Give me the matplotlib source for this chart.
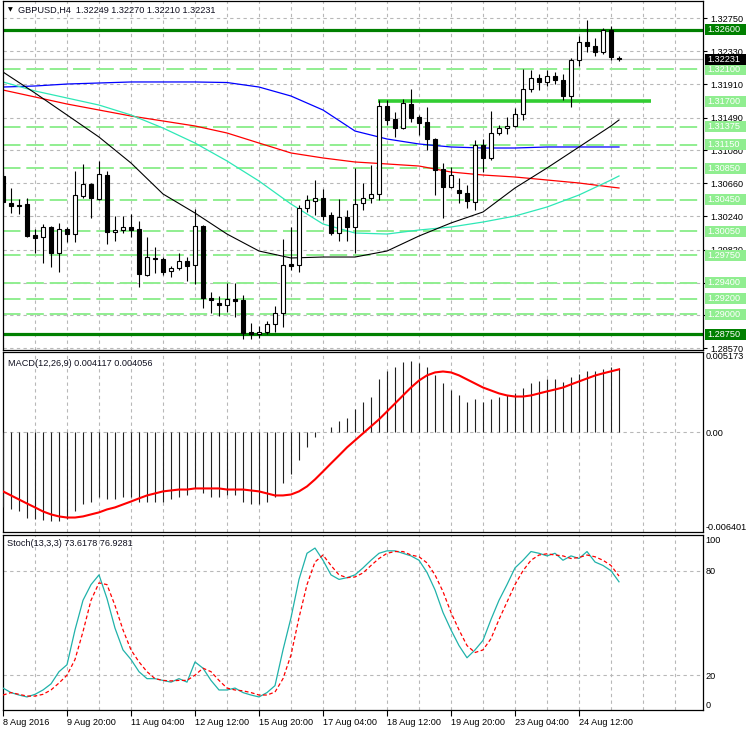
import matplotlib
matplotlib.use('Agg')
import matplotlib.pyplot as plt
from matplotlib.patches import Rectangle
from matplotlib.transforms import blended_transform_factory
import numpy as np

plt.rcParams['font.family'] = ['Liberation Sans', 'DejaVu Sans']

# ---------------- data ----------------
opens = [1.30752,1.30410,1.30384,1.30397,1.30005,1.29979,1.30106,1.29777,1.30081,1.30017,
         1.30498,1.30650,1.30460,1.30764,1.30043,1.30068,1.30106,1.30081,1.29498,1.29714,
         1.29701,1.29549,1.29587,1.29676,1.29625,1.30119,1.29207,1.29144,1.29118,1.29194,
         1.29182,1.28777,1.28751,1.28777,1.28878,1.29017,1.29638,1.29625,1.30347,1.30435,
         1.30473,1.30258,1.30030,1.30233,1.30106,1.30410,1.30473,1.30524,1.31638,1.31473,
         1.31359,1.31663,1.31499,1.31435,1.31220,1.30840,1.30612,1.30574,1.30536,1.30422,
         1.31144,1.30980,1.31296,1.31359,1.31385,1.31537,1.31853,1.31992,1.31942,1.32018,
         1.31967,1.31764,1.32220,1.32448,1.32397,1.32321,1.32600,1.32249]
highs = [1.30802,1.30600,1.30460,1.30473,1.30081,1.30144,1.30119,1.30157,1.30106,1.30815,
         1.30904,1.30663,1.30942,1.30815,1.30245,1.30245,1.30271,1.30182,1.29979,1.29853,
         1.29726,1.29612,1.29777,1.29726,1.30334,1.30131,1.29283,1.29232,1.29397,1.29397,
         1.29245,1.28891,1.28853,1.28916,1.29106,1.29954,1.30106,1.30384,1.30511,1.30701,
         1.30587,1.30296,1.30460,1.30321,1.30853,1.30663,1.30891,1.31714,1.31714,1.31562,
         1.31726,1.31853,1.31524,1.31625,1.31233,1.30916,1.30866,1.30726,1.30638,1.31207,
         1.31220,1.31575,1.31397,1.31499,1.31613,1.32106,1.32094,1.32043,1.32094,1.32068,
         1.32043,1.32246,1.32524,1.32727,1.32499,1.32625,1.32651,1.32270]
lows = [1.30334,1.30283,1.30271,1.29979,1.29777,1.29650,1.29600,1.29536,1.29916,1.29916,
        1.30473,1.30220,1.30448,1.29891,1.29929,1.30030,1.29979,1.29346,1.29486,1.29524,
        1.29498,1.29473,1.29562,1.29422,1.29384,1.29081,1.29017,1.28979,1.29030,1.28967,
        1.28688,1.28688,1.28701,1.28751,1.28777,1.28840,1.29562,1.29536,1.30296,1.30258,
        1.30195,1.30005,1.29929,1.29929,1.29777,1.30321,1.30410,1.30448,1.31397,1.31245,
        1.31347,1.31435,1.31271,1.31081,1.30511,1.30220,1.30600,1.30410,1.30347,1.30321,
        1.30802,1.30954,1.31271,1.31283,1.31372,1.31461,1.31815,1.31840,1.31891,1.31916,
        1.31714,1.31625,1.32144,1.32321,1.32271,1.32296,1.32220,1.32210]
closes = [1.30422,1.30378,1.30372,1.29992,1.29973,1.30106,1.29777,1.30081,1.30017,1.30511,
          1.30650,1.30473,1.30777,1.30043,1.30068,1.30106,1.30068,1.29511,1.29726,1.29695,
          1.29536,1.29587,1.29676,1.29612,1.30119,1.29207,1.29182,1.29118,1.29194,1.29169,
          1.28764,1.28751,1.28777,1.28878,1.29017,1.29625,1.29612,1.30347,1.30448,1.30473,
          1.30245,1.30030,1.30233,1.30106,1.30397,1.30473,1.30524,1.31638,1.31461,1.31359,
          1.31676,1.31486,1.31423,1.31220,1.30828,1.30612,1.30764,1.30536,1.30435,1.31144,
          1.30980,1.31296,1.31359,1.31385,1.31537,1.31853,1.31992,1.31942,1.32018,1.31967,
          1.31764,1.32220,1.32448,1.32397,1.32321,1.32600,1.32258,1.32231]

ma_idx = [0,4,8,12,16,20,24,28,32,36,40,44,48,52,56,60,64,68,72,76,77]
ma_black = [1.32068,1.31802,1.31524,1.31245,1.30916,1.30524,1.30283,1.30017,1.29802,1.29714,1.29726,
            1.29726,1.29802,1.29992,1.30157,1.30296,1.30600,1.30853,1.31119,1.31385,1.31461]
ma_cyan = [1.31942,1.31828,1.31739,1.31650,1.31524,1.31359,1.31169,1.30942,1.30688,1.30397,1.30144,
           1.30030,1.30017,1.30068,1.30106,1.30169,1.30245,1.30359,1.30511,1.30701,1.30752]
ma_blue = [1.31878,1.31891,1.31916,1.31929,1.31942,1.31942,1.31942,1.31935,1.31878,1.31764,1.31587,
           1.31321,1.31220,1.31157,1.31119,1.31106,1.31106,1.31119,1.31119,1.31119,1.31119]
ma_red = [1.31840,1.31752,1.31663,1.31587,1.31511,1.31448,1.31385,1.31296,1.31169,1.31043,1.30980,
          1.30929,1.30904,1.30878,1.30802,1.30764,1.30739,1.30701,1.30663,1.30612,1.30600]

macd_hist = [-0.00482,-0.00495,-0.00508,-0.00547,-0.00559,-0.00566,-0.00572,-0.00572,-0.00559,-0.00508,
             -0.00463,-0.00450,-0.00412,-0.00431,-0.00431,-0.00418,-0.00412,-0.00450,-0.00450,-0.00444,
             -0.00444,-0.00431,-0.00412,-0.00399,-0.00354,-0.00392,-0.00412,-0.00412,-0.00405,-0.00405,
             -0.00450,-0.00463,-0.00463,-0.00450,-0.00418,-0.00328,-0.00264,-0.00174,-0.00096,-0.00032,
             0.00006,0.00032,0.00071,0.00096,0.00148,0.00193,0.00231,0.00341,0.00392,0.00418,
             0.00450,0.00457,0.00444,0.00418,0.00367,0.00315,0.00276,0.00238,0.00199,0.00212,
             0.00199,0.00212,0.00225,0.00238,0.00251,0.00289,0.00315,0.00328,0.00341,0.00341,
             0.00322,0.00354,0.00379,0.00392,0.00392,0.00405,0.00418,0.004117]
macd_signal = [-0.00379,-0.00405,-0.00431,-0.00457,-0.00482,-0.00508,-0.00527,-0.00540,-0.00547,-0.00547,
               -0.00540,-0.00527,-0.00514,-0.00495,-0.00482,-0.00463,-0.00444,-0.00424,-0.00405,-0.00392,
               -0.00379,-0.00373,-0.00367,-0.00367,-0.00360,-0.00360,-0.00360,-0.00360,-0.00367,-0.00367,
               -0.00367,-0.00373,-0.00379,-0.00392,-0.00405,-0.00405,-0.00399,-0.00379,-0.00347,-0.00302,
               -0.00251,-0.00199,-0.00148,-0.00096,-0.00051,-0.00006,0.00039,0.00084,0.00135,0.00186,
               0.00238,0.00289,0.00334,0.00367,0.00386,0.00392,0.00386,0.00367,0.00341,0.00315,
               0.00289,0.00270,0.00251,0.00238,0.00231,0.00231,0.00238,0.00251,0.00264,0.00276,
               0.00289,0.00309,0.00328,0.00347,0.00366,0.00380,0.00393,0.004056]

stoch_k = [12.6,10,8.6,7.5,9,11.5,15,22,26,46,
           63,72,77.6,64,47,34.5,29,22,18,18,
           17,16,18,16,27.6,24,17,11.5,11.5,12.6,
           10,8.6,7.5,10,14,34.5,53,75,90,93,
           86,77.6,75,76,77.6,81.6,86,90,91.4,91.4,
           90,88.5,86,79,69,56,46,37,30,34.5,
           40,52,63,72,81.6,86,91,90,88.5,90,
           86,88.5,87,91,85,83,80,73.6178]
stoch_d = [8.6,10,9,8,8,9,11.5,15.5,20,29,
           45,63,73,72,60,46,34.5,27.6,22,18,
           17,16.7,17,17,20,24,22,17,12.6,11.5,
           11,10,8.6,8.6,10.3,18,31.6,53,72,85,
           89,83,77.6,76,76.4,78.7,83,87,90,91,
           91,89,88,84.5,77.6,68,56,46,37,33,
           34.5,41,52,62,72,80,86,89,89.7,89,
           88.5,87,87.6,89,88,86,83,76.9281]

price_ticks = [1.32750,1.32330,1.31910,1.31490,1.31080,1.30660,1.30240,1.29820,1.29400,1.28990,1.28570]
levels_light = [1.32100,1.31375,1.31150,1.30850,1.30450,1.30050,1.29750,1.29400,1.29200,1.29000]
levels_dark = [1.32600,1.28750]
level_bright = 1.31700
date_ticks = [0,8,16,24,32,40,48,56,64,72]
date_labels = ['8 Aug 2016','9 Aug 20:00','11 Aug 04:00','12 Aug 12:00','15 Aug 20:00',
               '17 Aug 04:00','18 Aug 12:00','19 Aug 20:00','23 Aug 04:00','24 Aug 12:00']
title = 'GBPUSD,H4  1.32249 1.32270 1.32210 1.32231'
macd_title = 'MACD(12,26,9) 0.004117 0.004056'
stoch_title = 'Stoch(13,3,3) 73.6178 76.9281'

# ---------------- layout ----------------
W, H = 746, 731
fig = plt.figure(figsize=(W/100, H/100), dpi=100)
fig.patch.set_facecolor('white')

def ax_px(l, t, r, b):
    return fig.add_axes([l/W, 1-b/H, (r-l)/W, (b-t)/H])

ax = ax_px(3, 1, 703, 350)
axm = ax_px(3, 352, 703, 532)
axs = ax_px(3, 535, 703, 710)

XMAX = 87.5
FS = 6.6
GRID = '#b8b8b8'
for a in (ax, axm, axs):
    a.set_xlim(0, XMAX)
    a.set_facecolor('white')
    for s in a.spines.values():
        s.set_color('black'); s.set_linewidth(0.9)
    a.yaxis.tick_right()
    a.tick_params(axis='y', direction='out', length=3, width=0.8, pad=2, labelsize=FS, colors='black')
    for gx in range(4, 88, 4):
        a.axvline(gx, color=GRID, lw=0.8, dashes=(3, 3), zorder=0.5)
ax.set_xticks([]); axm.set_xticks([])

# ---------------- main chart ----------------
n = len(opens)
x = np.arange(n)
o = np.array(opens); h = np.array(highs); l = np.array(lows); c = np.array(closes)
ax.set_ylim(1.28549, 1.32967)
ax.set_yticks(price_ticks)
ax.set_yticklabels([f'{t:.5f}' for t in price_ticks])
for t in price_ticks:
    ax.axhline(t, color=GRID, lw=0.8, dashes=(3, 3), zorder=0.5)

for lv in levels_light:
    ax.axhline(lv, color='#90EE90', lw=1.4, dashes=(9, 3), zorder=1)
for lv in levels_dark:
    ax.axhline(lv, color='#008000', lw=2.3, zorder=1.2)
ax.hlines(level_bright, 46.9, 81, color='#32CD32', lw=2.6, zorder=1.2)
ax.axhline(closes[-1], color='#c0c0c0', lw=0.9, zorder=1.1)

ax.plot(ma_idx, ma_red, color='#ff0000', lw=0.9, zorder=2)
ax.plot(ma_idx, ma_blue, color='#0000ff', lw=0.9, zorder=2)
ax.plot(ma_idx, ma_cyan, color='#2ee8b6', lw=0.9, zorder=2)
ax.plot(ma_idx, ma_black, color='black', lw=0.8, zorder=2)

ax.vlines(x, l, h, color='black', lw=0.8, zorder=3)
up = c >= o
body = np.where(np.abs(c - o) < 0.00002, 0.00002, c - o)
ax.bar(x[up], body[up], bottom=o[up], width=0.62, facecolor='white', edgecolor='black', lw=0.8, zorder=4)
ax.bar(x[~up], body[~up], bottom=o[~up], width=0.62, facecolor='black', edgecolor='black', lw=0.8, zorder=4)

# right side price boxes
dpp = (1.32967 - 1.28549) / 349.0
tr = blended_transform_factory(fig.transFigure, ax.transData)
def price_box(p, bg, fg='white'):
    hh = 11 * dpp
    fig.add_artist(Rectangle((705/W, p - hh/2), 42/W, hh, transform=tr, facecolor=bg,
                             edgecolor='none', clip_on=False, zorder=5))
    fig.text(707/W, p, f'{p:.5f}', transform=tr, color=fg, fontsize=FS, va='center', ha='left', zorder=6)

for lv in levels_light + [level_bright]:
    price_box(lv, '#90EE90')
for lv in levels_dark:
    price_box(lv, '#008000')
price_box(closes[-1], 'black')

fig.text(8/W, 1-10/H, '▼', fontsize=4.5, va='center', ha='left', color='black',
         family=['DejaVu Sans'])
fig.text(18/W, 1-10/H, title, fontsize=FS, va='center', ha='left', color='#101020')

# ---------------- MACD ----------------
axm.set_ylim(-0.006401, 0.005173)
axm.vlines(x, 0, macd_hist, color='#202020', lw=0.8, zorder=3)
axm.plot(x, macd_signal, color='#ff0000', lw=1.5, zorder=4)
axm.axhline(0, color=GRID, lw=0.8, dashes=(3, 3), zorder=0.5)
axm.set_yticks([0.005173, 0.0, -0.006401])
axm.set_yticklabels(['0.005173', '0.00', '-0.006401'])
tl = axm.get_yticklabels()
tl[0].set_va('top'); tl[2].set_va('bottom')
axm.tick_params(axis='y', length=0)
fig.text(8/W, 1-363/H, macd_title, fontsize=FS, va='center', ha='left', color='#101020')

# ---------------- Stochastic ----------------
axs.set_ylim(0, 100.5)
for lv in (20, 80):
    axs.axhline(lv, color=GRID, lw=0.8, dashes=(3, 3), zorder=0.5)
axs.plot(x, stoch_k, color='#20B2AA', lw=0.9, zorder=3)
axs.plot(x, stoch_d, color='#ff0000', lw=0.9, dashes=(3, 2), zorder=3)
axs.set_yticks([100, 80, 20, 0])
axs.set_yticklabels(['100', '80', '20', '0'])
tl = axs.get_yticklabels()
tl[0].set_va('top'); tl[3].set_va('bottom')
axs.tick_params(axis='y', length=0)
fig.text(7/W, 1-543/H, stoch_title, fontsize=FS, va='center', ha='left', color='#101020')

axs.set_xticks(date_ticks)
axs.set_xticklabels(date_labels)
axs.tick_params(axis='x', direction='out', length=4, width=0.8, pad=1.5, labelsize=FS, colors='black')
for t in axs.get_xticklabels():
    t.set_ha('left')

fig.savefig('out.png', dpi=100, facecolor='white')
